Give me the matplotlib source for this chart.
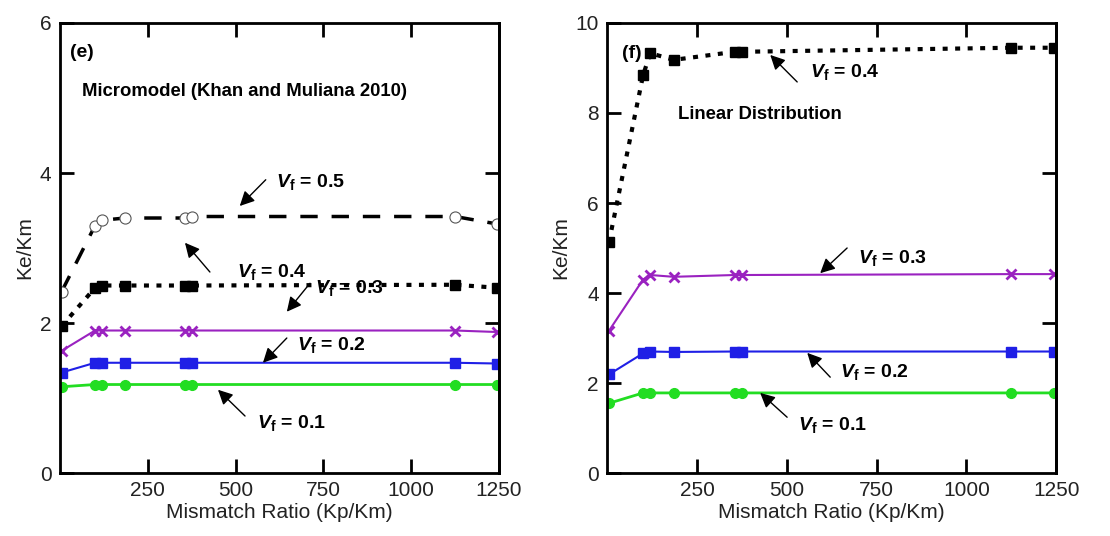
import matplotlib
matplotlib.use('Agg')
import matplotlib.pyplot as plt

plt.rcParams['font.family'] = ['Liberation Sans', 'DejaVu Sans']
plt.rcParams['mathtext.fontset'] = 'custom'
plt.rcParams['mathtext.it'] = 'Liberation Sans:italic:bold'
plt.rcParams['mathtext.bf'] = 'Liberation Sans:bold'
plt.rcParams['mathtext.rm'] = 'Liberation Sans:bold'

# mismatch ratio Kp/Km
ratio = [5, 100, 120, 185, 355, 375, 1125, 1245]

# (e) micromodel (Khan and Muliana 2010)
e_vf01 = [1.15, 1.18, 1.18, 1.18, 1.18, 1.18, 1.18, 1.18]
e_vf02 = [1.34, 1.47, 1.47, 1.47, 1.47, 1.47, 1.47, 1.46]
e_vf03 = [1.63, 1.90, 1.90, 1.90, 1.90, 1.90, 1.90, 1.88]
e_vf04 = [1.96, 2.47, 2.50, 2.50, 2.50, 2.50, 2.51, 2.47]
e_vf05 = [2.42, 3.30, 3.37, 3.40, 3.40, 3.42, 3.42, 3.32]

# (f) linear distribution
f_vf01 = [1.55, 1.78, 1.78, 1.78, 1.78, 1.78, 1.78, 1.78]
f_vf02 = [2.19, 2.66, 2.70, 2.69, 2.70, 2.70, 2.70, 2.70]
f_vf03 = [3.16, 4.30, 4.40, 4.36, 4.40, 4.40, 4.42, 4.42]
f_vf04 = [5.13, 8.84, 9.33, 9.18, 9.36, 9.36, 9.45, 9.45]

xticks = [250, 500, 750, 1000, 1250]

GREEN = '#22dd22'
BLUE = '#1f1fe6'
PURPLE = '#9a22c0'

fig = plt.figure(figsize=(11.1, 5.36), dpi=100)
ax1 = fig.add_axes([0.054, 0.1175, 0.3955, 0.8396])
ax2 = fig.add_axes([0.547, 0.1175, 0.4045, 0.8396])


def style_axes(ax, ymax, yticks, right_ticks):
    ax.set_xlim(0, 1250)
    ax.set_ylim(0, ymax)
    ax.set_xticks(xticks)
    ax.set_yticks(yticks)
    ax.tick_params(direction='in', length=10, width=2, labelsize=15,
                   top=True, pad=6, labelcolor='#222222')
    for s in ax.spines.values():
        s.set_linewidth(2)
    ax.set_xlabel('Mismatch Ratio (Kp/Km)', fontsize=15, labelpad=2,
                  color='#222222')
    ax.set_ylabel('Ke/Km', fontsize=15, labelpad=4, color='#222222')
    tw = ax.twinx()
    tw.set_ylim(0, ymax)
    tw.set_yticks(right_ticks)
    tw.set_yticklabels([])
    tw.tick_params(direction='in', length=10, width=2)
    tw.spines['right'].set_linewidth(2)


def vf_label(ax, val, text_xy, tail, head):
    ax.text(text_xy[0], text_xy[1], r'$V_\mathbf{f}$ = ' + val, fontsize=14,
            fontweight='bold', va='center', ha='left')
    ax.annotate('', xy=head, xytext=tail,
                arrowprops=dict(arrowstyle='-|>', color='black', lw=1,
                                mutation_scale=22, shrinkA=0, shrinkB=0))


# ---- panel (e)
ax1.plot(ratio, e_vf01, color=GREEN, lw=2, marker='o', ms=7)
ax1.plot(ratio, e_vf02, color=BLUE, lw=1.5, marker='s', ms=7.5)
ax1.plot(ratio, e_vf03, color=PURPLE, lw=1.5, marker='x', ms=7, mew=2)
ax1.plot(ratio, e_vf04, color='black', lw=3, ls=(0, (1.2, 1.8)), marker='s', ms=7.5)
ax1.plot(ratio, e_vf05, color='black', lw=2.5, ls=(0, (5, 4)), marker='o', ms=8,
         mfc='white', mec='#555555', mew=0.8)
style_axes(ax1, 6, [0, 2, 4, 6], [2, 4])

ax1.text(28, 5.61, '(e)', fontsize=14, fontweight='bold', va='center')
ax1.text(63, 5.09, 'Micromodel (Khan and Muliana 2010)', fontsize=13.3,
         fontweight='bold', va='center')
vf_label(ax1, '0.5', (615, 3.88), (586, 3.91), (512, 3.56))
vf_label(ax1, '0.4', (504, 2.68), (427, 2.68), (356, 3.07))
vf_label(ax1, '0.3', (726, 2.47), (712, 2.53), (646, 2.15))
vf_label(ax1, '0.2', (675, 1.71), (646, 1.80), (578, 1.47))
vf_label(ax1, '0.1', (561, 0.67), (527, 0.76), (450, 1.11))

# ---- panel (f)
ax2.plot(ratio, f_vf01, color=GREEN, lw=2, marker='o', ms=7)
ax2.plot(ratio, f_vf02, color=BLUE, lw=1.5, marker='s', ms=7.5)
ax2.plot(ratio, f_vf03, color=PURPLE, lw=1.5, marker='x', ms=7, mew=2)
ax2.plot(ratio, f_vf04, color='black', lw=3, ls=(0, (1.2, 1.8)), marker='s', ms=7.5)
style_axes(ax2, 10, [0, 2, 4, 6, 8, 10], [10 / 3, 20 / 3])

ax2.text(42, 9.33, '(f)', fontsize=14, fontweight='bold', va='center')
ax2.text(198, 7.96, 'Linear Distribution', fontsize=13.3, fontweight='bold',
         va='center')
vf_label(ax2, '0.4', (565, 8.91), (529, 8.69), (454, 9.29))
vf_label(ax2, '0.3', (699, 4.78), (668, 5.0), (593, 4.44))
vf_label(ax2, '0.2', (649, 2.24), (621, 2.13), (557, 2.67))
vf_label(ax2, '0.1', (532, 1.07), (501, 1.24), (426, 1.78))

fig.savefig('out.png', dpi=100)
